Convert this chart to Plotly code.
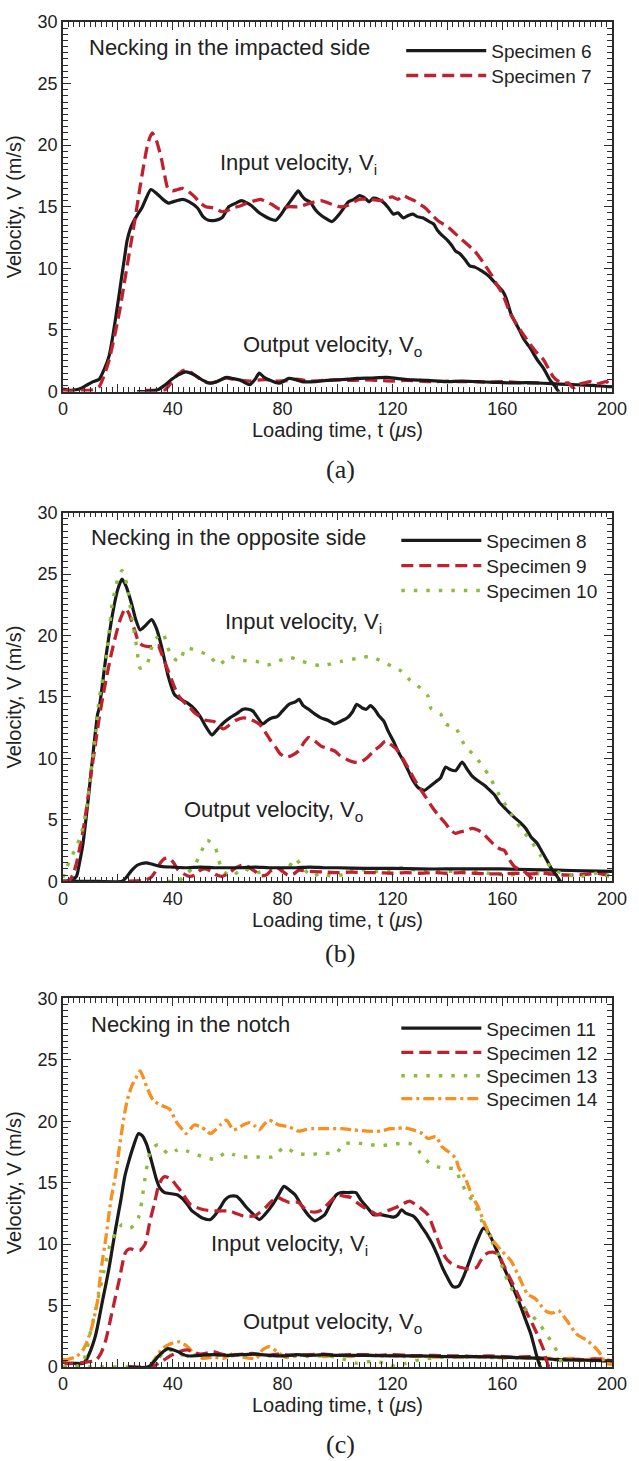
import plotly.graph_objects as go

# ---------------- data ----------------
# Panel (a): necking in the impacted side
t_a6_in = [0,3,6,8.5,11,13.2,15,16.8,18,19.2,
           20.4,21.5,22.5,23.3,24.5,25.7,27,28.7,30.5,32,
           34,36.4,38.5,40,43.6,46,49,51,53,55.5,
           57.9,60.4,63,65,68.6,71,73,75.5,77.5,79.5,
           81,83,84.6,85.7,87,88.2,90,91.8,93.5,95.4,
           98,101,104,106,108,110,111.5,113,115,117,
           118.6,120.4,122,124,125.8,127.5,129,131,133.4,135,
           136.4,138,140,141.5,143,144.5,146.5,148.2,150,152.5,
           155,157.9,160,161.4,163.2,164.3,166,168,170,172.7,
           175,177.5,179,180.5,181.5]
v_a6_in = [0.2,0.1,0.2,0.5,0.8,1.0,1.8,2.9,4.3,6.0,
           7.8,9.5,11.0,12.2,13.2,13.8,14.3,14.9,15.8,16.4,
           16.1,15.6,15.3,15.4,15.6,15.4,14.9,14.2,13.9,13.9,
           14.1,15.0,15.3,15.5,15.1,14.6,14.3,14.0,13.9,14.4,
           14.9,15.5,16.0,16.3,15.9,15.6,15.4,14.8,14.4,14.1,
           13.8,14.5,15.4,15.6,15.9,15.7,15.4,15.7,15.6,15.3,
           14.9,14.4,14.5,14.1,14.3,14.4,14.2,14.1,13.8,13.6,
           13.1,12.7,12.3,11.9,11.4,11.2,10.7,10.2,10.1,9.8,
           9.4,8.7,8.2,7.6,6.3,5.8,5.1,4.2,3.6,2.6,
           1.9,0.9,0.5,0.0,-0.3]
t_a6_out = [27,30,32,34.6,37,39.4,42,44.8,47,49,
            51,53.6,56,59.6,62,64.4,66,68,70,71.5,
            73,75,78.7,80.5,82.3,85,87,91.8,96,100,
            104,107,112,118,122,127.5,133,139.3,145,151,
            157,163,169,175,181,187,193,199,200]
v_a6_out = [0.0,0.0,0.05,0.15,0.5,0.95,1.35,1.6,1.45,1.2,
            0.9,0.67,0.8,1.15,1.05,0.94,0.75,0.55,1.0,1.5,
            1.2,0.95,0.67,0.85,1.07,0.95,0.8,0.8,0.9,0.95,
            1.0,1.07,1.1,1.15,1.05,0.94,0.9,0.8,0.85,0.8,
            0.75,0.7,0.72,0.67,0.6,0.55,0.5,0.4,0.4]
t_a7_in = [0,4,8,10,11.5,13.2,15,16.8,18.2,19.7,
           21,22.1,23.3,24.5,26.3,28,29.5,31,32.5,34,
           35.8,37,38.2,40,41.8,43.5,45.4,48,50,52,
           55,58,60,62,65,67,70,72,74,76,
           79,82,86,90,94,98,101,103.6,106,108,
           112,116,118,120,122,124,126,128,130,132,
           134.6,137,140,143,146,150,153,156,158,160.2,
           163,166,169,172,175,177,178.6,180,182,184,
           186,188,190,192,194,196,198,200]
v_a7_in = [0.1,0.05,0.1,0.1,0.2,0.4,1.3,2.55,3.9,5.5,
           7.0,8.5,10.1,11.7,14.1,16.5,18.5,20.2,21.0,20.4,
           18.95,17.6,16.5,16.3,16.4,16.5,16.3,15.8,15.3,15.0,
           14.9,14.6,14.7,14.9,15.1,15.3,15.5,15.6,15.4,15.2,
           14.8,15.0,15.0,15.3,15.5,15.2,15.0,15.1,15.4,15.6,
           15.6,15.5,15.7,15.8,15.6,15.9,15.7,15.5,15.2,14.9,
           14.3,13.8,13.4,12.8,12.2,11.4,10.5,9.5,8.7,7.9,
           6.3,5.2,4.2,3.3,2.6,1.8,1.2,0.9,0.67,0.7,
           0.3,0.6,0.7,0.8,0.6,0.7,0.8,0.3]
t_a7_out = [30,34,37,39,41,43,44.8,47,50,53,
            56,59,62,65,68,72,75,78,82,85,
            90,95,100,105,110,115,120,125,130,135,
            140,145,150,155,160,165,170,175]
v_a7_out = [0.1,0.1,0.1,0.6,1.2,1.6,1.77,1.5,1.0,0.7,
            0.8,1.1,1.0,0.9,0.85,0.95,0.95,0.85,0.9,1.0,
            0.85,0.9,0.95,0.9,0.95,0.9,0.85,0.9,0.85,0.8,
            0.85,0.8,0.8,0.75,0.8,0.75,0.7,0.7]

# Panel (b): necking in the opposite side
t_b8_in = [0,1.3,3,4.9,6,7.3,9,10.8,12.6,13.2,
           15.6,18,20,21.5,23,25.1,26.5,28.1,30,32.3,
           34,35.8,37,38.2,40.6,43,45.4,48,50,52,
           54.3,56,58.5,60.8,63,65.6,67.5,69.2,71,72.7,
           74.5,76.3,78,79.9,82.3,84.6,86,87.5,89.5,91.8,
           94,96.5,98.9,101,103.6,105.5,107,109,110.5,112,
           113.5,115,116.8,118.5,120.4,122,124,126,127.5,129.5,
           131.7,133.5,135.8,137.5,139.4,141,143,145.4,147,148.9,
           151,153.6,155.5,157.3,159,160.8,162.5,164.4,166.5,168.6,
           170.5,172.7,174.5,176.3,178,180,181.7]
v_b8_in = [0.0,0.0,0.05,0.4,1.5,3.1,6.3,10.1,13.6,14.1,
           18.2,21.7,23.8,24.6,24.0,22.5,21.3,20.45,20.8,21.3,
           20.6,19.2,18.0,16.8,15.2,14.8,14.5,14.0,13.4,12.6,
           11.9,12.3,12.9,13.3,13.6,14.0,14.0,13.85,13.3,12.8,
           13.1,13.3,13.4,13.85,14.4,14.6,14.8,14.3,14.0,13.6,
           13.3,13.1,12.8,13.0,13.3,13.8,14.4,14.1,14.0,14.3,
           14.0,13.5,13.05,12.2,11.4,10.6,9.8,8.9,8.2,7.6,
           7.4,7.7,8.1,8.4,9.3,9.1,9.0,9.7,9.2,8.6,
           8.2,7.8,7.4,7.0,6.4,6.0,5.6,5.2,4.8,4.3,
           3.6,3.1,2.4,1.7,1.0,0.4,-0.2]
t_b8_out = [0,10,21.5,23,25.1,27,28.7,30.5,32.3,35.8,
            40,45,50,55,60,65,70,75,80,85,
            90,95,100,110,120,130,140,150,160,170,
            180,190,200]
v_b8_out = [0.0,0.0,0.0,0.3,0.9,1.3,1.45,1.5,1.4,1.2,
            1.15,1.1,1.15,1.1,1.1,1.1,1.15,1.1,1.1,1.1,
            1.15,1.1,1.1,1.05,1.05,1.0,1.0,1.0,1.0,0.95,
            0.9,0.85,0.8]
t_b9_in = [0,2.5,3.7,4.9,6,7.3,8.8,10.2,11.7,13.2,
           14.5,15.6,17.5,19.2,21,22.7,24,25.1,26.3,27.5,
           29,31,33,34.6,35.8,37,39.4,41.8,44,46,
           48,50,52,55,57,58.5,60.5,63,65.6,68,
           71.5,73.5,75.5,77.5,79,81,83,85.8,87.5,89.4,
           91.8,94,96.5,99,101,103.6,106,108.5,111,113.2,
           115.5,117.4,119,121.5,124,126.3,128,129.9,132,134.6,
           137,139.4,141,143,144.5,146.5,149,151.3,153,154.3,
           156,157.9,159.5,160.8,162.5,164.4,166,168,170,171.5,
           174]
v_b9_in = [0.0,0.1,0.6,1.45,2.6,4.1,6.3,8.7,11.0,13.3,
           15.0,16.3,18.4,20.0,21.4,22.2,21.8,21.1,20.3,19.5,
           19.2,19.1,19.1,19.2,18.6,17.9,16.5,15.2,14.6,14.2,
           13.7,13.4,13.1,13.0,12.6,12.4,12.7,13.1,13.3,13.2,
           12.8,12.2,11.5,10.9,10.4,10.1,10.2,10.6,11.2,11.7,
           11.4,11.0,10.8,10.6,10.2,9.9,9.7,9.7,10.1,10.6,
           11.0,11.4,11.2,10.75,9.9,9.0,8.3,7.6,6.9,6.0,
           5.3,4.7,4.2,3.9,4.0,4.1,4.3,4.15,3.9,3.6,
           3.2,2.8,2.6,2.5,1.8,1.2,1.0,0.8,0.4,0.1,
           -0.3]
t_b9_out = [24,30,32,34,35.5,37,38.5,40,42,44,
            46,48,50,52,54,56,58,60,63,66,
            68,70,72,74,76,78,80,82,84,86,
            90,95,100,105,110,115,120,125,130,135,
            140,145,150,155,160,165,170,175,180,185,
            190,195,200]
v_b9_out = [0.0,0.1,0.3,0.9,1.5,1.85,1.9,1.6,0.9,0.6,
            0.4,0.5,0.9,1.0,0.8,0.5,0.4,0.6,1.1,1.35,
            1.1,0.8,0.45,0.5,0.9,1.1,0.8,0.5,0.6,0.9,
            0.8,0.75,0.7,0.75,0.7,0.7,0.65,0.7,0.65,0.7,
            0.65,0.7,0.65,0.6,0.6,0.65,0.6,0.65,0.55,0.5,
            0.55,0.65,0.4]
t_b10_in = [0,0.7,3.1,4.9,6.7,8.5,10.2,12,13.2,15.6,
            18,20,21.5,23.3,25.1,26.9,28.1,30.5,32.9,34.5,
            36.4,38.2,40,42.4,44.8,48.3,53.1,56.7,60.8,64.4,
            70.4,74.5,78.7,82.9,87,94.2,101.3,108.5,112,116.2,
            119.8,123.3,126.3,129.3,132.9,134,137.6,139.4,143,146.5,
            150,154.9,159,163.2,166.8,170.4,174,177.5,180,184.6,
            189.3,194.2,199]
v_b10_in = [0.3,0.8,2.0,2.8,3.9,5.8,9.0,12.2,14.9,17.9,
            22.7,24.6,25.3,24.1,21.4,19.0,17.35,17.6,19.5,19.9,
            20.2,19.0,18.2,17.9,19.0,18.8,18.4,17.6,18.3,18.0,
            17.9,17.6,17.95,18.2,17.9,17.55,17.9,18.2,18.3,17.9,
            17.5,17.1,16.4,15.9,15.1,14.1,13.6,12.8,12.5,11.0,
            10.2,8.7,7.0,5.5,4.3,3.3,2.1,1.2,0.8,0.5,
            0.4,0.65,0.4]
t_b10_out = [38,42,45,47.7,50,52.5,55.5,56.7,58.5,61.4,
             65.6,69.8,73.9,78.1,81,84.6,87,90.6,94.2,98,
             102,106,110,114.8,119,124,131,139.4,147.5,154.9,
             163,168,174,180]
v_b10_out = [0.0,0.0,0.6,1.2,2.2,3.35,2.75,1.7,0.8,0.4,
             1.05,0.65,0.9,1.2,0.8,1.85,1.2,0.4,0.65,0.4,
             0.55,1.05,0.9,0.8,0.9,1.1,0.8,0.8,0.8,0.65,
             0.5,0.8,0.6,0.55]

# Panel (c): necking in the notch
t_c11_in = [0,1.3,4,7.3,8.5,9.6,10.8,12,13.2,14.4,
            15.6,16.8,18,19.2,21,22.5,23.9,25.7,27.5,29,
            30.5,31.7,32.9,34,35.2,37,39.5,41.8,43.5,45.4,
            47,48.9,51,53.7,55.5,57.3,59,60.8,63.2,65,
            66.8,69,71.5,73.5,76.3,78.5,80.5,82.5,84.6,86.5,
            88.2,90,91.8,93.5,95.4,97.5,99.5,101.3,104,106.7,
            108.5,110.8,113.2,115.6,118,120.4,122,123.3,125,127.5,
            129.2,131,132.8,134.6,136.4,138.2,140,141.8,143,144.2,
            146,147.7,149.5,151.3,153.1,154.5,156,157.8,159.6,161.4,
            163.2,165,166.8,168.6,170.4,171.5,172.7,173.9,175]
v_c11_in = [0.4,0.3,0.3,0.3,0.6,1.1,1.8,2.7,4.0,5.4,
            6.7,8.1,9.7,11.3,13.5,15.5,16.7,18.0,19.0,18.8,
            18.1,17.2,16.2,15.3,14.6,14.2,14.1,14.0,13.7,13.2,
            12.7,12.4,12.1,12.0,12.4,13.0,13.6,13.9,13.9,13.5,
            13.0,12.5,12.0,12.4,13.2,14.0,14.7,14.4,14.0,13.3,
            12.7,12.2,11.9,12.1,12.4,13.3,14.0,14.2,14.2,14.2,
            13.6,13.0,12.4,12.4,12.3,12.2,12.4,12.8,12.5,12.3,
            11.9,11.3,10.7,10.0,9.1,8.1,7.3,6.6,6.5,6.6,
            7.4,8.4,9.5,10.5,11.3,11.1,10.5,9.6,8.65,7.7,
            6.8,5.9,4.9,3.8,2.7,1.8,0.8,0.0,-0.4]
t_c11_out = [24,31,33,34.6,36.5,38.2,40,41.8,43.5,45.4,
             50,55,60,65,70,75,80,85,90,95,
             100,110,120,130,140,150,160,170,180,190,
             200]
v_c11_out = [0.0,0.0,0.4,0.85,1.25,1.5,1.4,1.25,1.05,0.9,
             0.95,1.0,0.95,1.0,1.05,0.95,0.9,1.0,0.95,1.0,
             0.95,0.95,0.9,0.9,0.85,0.85,0.8,0.75,0.6,0.55,
             0.5]
t_c12_in = [0,1.3,4,8.5,12,13.8,15.6,18,20.4,22.7,
            24,25.1,26.5,28.1,29.9,31.7,33.5,34.6,36,37,
            39.4,41.2,43,44.8,46.5,48.5,51.3,56,60.8,63,
            65.6,69.8,71.8,73.9,76,78.1,80.2,82.3,85.8,87.5,
            89.4,91.5,93.5,95.4,97.5,100.1,102.5,104.9,107,109.6,
            112,114.4,116,118,121.5,124,126.3,128,129.9,131.5,
            132.9,134.3,135.8,137.5,139.4,141,143,145,147.7,149,
            150.7,152,153.5,154.9,156.5,158.5,160.3,162,163.8,165.6,
            167.4,169.2,171,172.7,174,175.1,176,177]
v_c12_in = [0.5,0.3,0.3,0.4,0.55,1.1,2.2,4.6,7.0,9.3,
            9.6,9.6,9.5,9.5,10.0,11.9,13.5,14.6,15.3,15.5,
            15.3,14.8,14.3,13.7,13.2,13.0,12.8,12.7,12.7,12.5,
            12.3,12.3,12.6,13.0,13.5,13.8,13.6,13.4,13.4,13.0,
            12.7,12.6,12.7,13.0,13.5,14.0,13.9,13.8,13.4,13.0,
            12.7,12.4,12.5,12.7,13.0,13.3,13.5,13.3,13.0,12.7,
            12.4,11.7,10.8,9.8,8.9,8.5,8.25,8.1,8.0,8.05,
            8.1,8.6,9.1,9.3,9.35,9.2,8.4,7.6,6.8,5.95,
            5.1,4.3,3.5,2.7,2.0,1.4,0.6,0.0]
t_c12_out = [24,31,33,35,37,39,41,43,45.4,47.5,
             50,52,54.8,57,60,63,66,69,72,75,
             78,81,85,90,95,100,105,110,115,120,
             125,130,135,140,145,150,155,160,165,170,
             175,180,185,190,195,200]
v_c12_out = [0.0,0.0,0.1,0.3,0.6,0.9,1.1,1.3,1.4,1.2,
             1.05,1.1,1.25,1.1,0.95,1.0,1.05,1.1,1.0,0.95,
             1.05,1.0,0.95,1.0,1.05,0.95,1.0,1.0,0.95,1.0,
             0.95,0.9,0.95,0.9,0.9,0.85,0.9,0.85,0.8,0.85,
             0.7,0.6,0.65,0.6,0.65,0.5]
t_c13_in = [0,4,7,8.5,9.6,11.4,13.2,15,16.8,18.2,
            19.8,21.5,23,24.5,26,27.5,28.7,29.9,31.7,33,
            34.6,36.5,38.8,41,43,45,47.1,51.3,55.5,57.5,
            59.6,62,64.4,68,71.5,76.3,78.5,80.5,82.5,84.6,
            89.4,95.4,99.5,102.5,105.5,108.5,112,115.6,119,122.7,
            126.3,129.9,133.4,136.5,139.4,143,144.8,147.1,150.1,152.5,
            154.9,156.7,158.5,160.8,163.2,165.6,168,170.4,173.9,176.3,
            178.7,180.5,182.3,183.5]
v_c13_in = [0.0,0.0,0.3,1.2,2.45,4.2,6.0,7.9,9.7,10.5,
            11.1,11.6,11.5,11.3,11.6,12.15,13.5,15.4,17.5,17.9,
            18.1,17.7,17.3,17.6,17.8,17.6,17.4,17.1,16.9,17.2,
            17.5,17.3,17.1,17.1,17.1,17.1,17.5,17.9,17.7,17.4,
            17.3,17.4,17.4,18.2,18.2,18.2,18.1,18.0,18.1,18.2,
            18.2,17.5,16.6,16.3,16.2,16.1,15.1,14.2,13.2,11.9,
            10.8,10.0,9.2,7.6,6.5,5.4,4.8,4.3,3.4,2.6,
            1.8,1.0,0.0,-0.4]
t_c13_out = [0,12,24,31,34,37,39.4,43,48,55,
             60,65,70,75,80,85,90,95,100,104,
             107,112,118,121,125,130,136,140,150,160,
             170,180,190,200]
v_c13_out = [0.0,0.0,0.0,0.0,0.5,1.25,1.35,1.0,0.95,1.0,
             0.95,0.9,1.0,0.9,0.95,0.9,0.85,0.9,0.8,0.5,
             0.3,0.45,0.3,0.05,0.3,0.6,0.75,0.8,0.8,0.75,
             0.7,0.6,0.5,0.45]
t_c14_in = [0,1.3,4.9,7.3,9,10.8,12.6,13.8,15.6,17.4,
            19.2,20.5,22.1,23.5,25.1,26.5,28.1,29.2,30.5,32.9,
            35.8,38.8,41.2,43.6,44.8,46.5,47.8,50.1,52,53.7,
            55.5,57.3,59.6,62,63.5,65.6,68,70,71.5,73.5,
            75.1,77,78.7,82.3,85.8,88,90.6,95.4,101.3,106,
            110.8,115.6,119.2,122,124,127.5,131,132.9,135.8,138.2,
            140.6,143,144.2,146.5,148.9,151.3,153.7,156.7,159.6,163.2,
            166.2,169.2,172.1,174.5,176.3,178.5,180.5,183.5,187,190.6,
            193.6,196,197.7,200]
v_c14_in = [0.6,0.6,0.85,1.4,2.2,3.5,5.4,7.8,10.5,13.5,
            15.7,17.8,20.2,21.8,22.9,23.5,24.1,23.6,22.8,21.7,
            21.3,21.0,20.0,19.3,19.0,19.4,19.7,19.55,19.3,19.0,
            19.3,19.7,20.1,19.3,19.4,19.7,19.9,19.6,19.3,19.8,
            20.1,19.9,19.7,19.55,19.2,19.3,19.4,19.4,19.4,19.3,
            19.2,19.2,19.4,19.4,19.5,19.3,19.0,18.6,18.75,17.9,
            17.5,17.0,16.2,15.4,14.0,13.0,11.6,10.3,9.5,8.65,
            7.3,5.95,5.55,4.9,4.5,4.4,4.6,3.8,2.7,2.2,
            1.65,1.0,0.3,0.2]
t_c14_out = [24,31,33,35.8,37.5,39.4,42.4,45.4,47.7,51,
             54.8,58.5,62,65.6,70.4,72.7,75.1,78,81,85,
             90,95,100,105,110,115,120,125,130,135,
             140,145,150,155,160,165,170,175,180,185,
             190,195,200]
v_c14_out = [0.0,0.0,0.5,1.4,1.7,1.9,2.05,1.65,1.1,0.7,
             0.8,0.7,1.1,0.8,0.7,1.4,1.65,1.25,0.8,0.9,
             1.0,0.85,0.95,0.85,1.0,0.9,0.95,0.85,0.9,0.8,
             0.85,0.8,0.85,0.8,0.75,0.8,0.7,0.75,0.65,0.7,
             0.6,0.7,0.5]

x_major_step = 20      # major ticks every 20 us, labels every 40 us
y_major_step = 5

# ---------------- styles ----------------
BLACK = "#1a1a1a"
RED = "#c0212e"
GREEN = "#8cbc3c"
ORANGE = "#f7901e"
AX = "#2b2b2b"
FONT = "Liberation Sans, Arial, Helvetica, sans-serif"

styles = {
    "solid": dict(color=BLACK, width=3.2, dash="solid"),
    "dash": dict(color=RED, width=3.3, dash="12px,6px"),
    "dot": dict(color=GREEN, width=3.4, dash="3.5px,9px"),
    "dashdot": dict(color=ORANGE, width=3.3, dash="11px,4px,3px,4px"),
}

# legend rows: line start x and row centre y, in page pixels
panels = [
    ("x", "y", [
        ("Specimen 6", "solid", t_a6_in, v_a6_in, t_a6_out, v_a6_out, 408, 42),
        ("Specimen 7", "dash", t_a7_in, v_a7_in, t_a7_out, v_a7_out, 408, 67),
    ]),
    ("x2", "y2", [
        ("Specimen 8", "solid", t_b8_in, v_b8_in, t_b8_out, v_b8_out, 403, 535),
        ("Specimen 9", "dash", t_b9_in, v_b9_in, t_b9_out, v_b9_out, 403, 560.5),
        ("Specimen 10", "dot", t_b10_in, v_b10_in, t_b10_out, v_b10_out, 403, 585.5),
    ]),
    ("x3", "y3", [
        ("Specimen 11", "solid", t_c11_in, v_c11_in, t_c11_out, v_c11_out, 403, 1026),
        ("Specimen 12", "dash", t_c12_in, v_c12_in, t_c12_out, v_c12_out, 403, 1050.5),
        ("Specimen 13", "dot", t_c13_in, v_c13_in, t_c13_out, v_c13_out, 403, 1074),
        ("Specimen 14", "dashdot", t_c14_in, v_c14_in, t_c14_out, v_c14_out, 403, 1097),
    ]),
]

W, H = 639, 1461
ML, MR, MT, MB = 63, 16, 13, 94
PH = H - MT - MB  # 1354
PW = W - ML - MR  # 560


def py(p):
    """page pixel y -> paper y"""
    return (H - MB - p) / PH


def px(p):
    """page pixel x -> paper x"""
    return (p - ML) / PW


fig = go.Figure()
legend_layouts = {}
k = 0
for xa, ya, series in panels:
    for name, st, ti, vi, to, vo, lx, ly in reversed(series):
        fig.add_trace(go.Scatter(x=to, y=vo, mode="lines", xaxis=xa, yaxis=ya,
                                 line=dict(**styles[st], shape="spline", smoothing=0.6),
                                 showlegend=False, hoverinfo="skip"))
    for name, st, ti, vi, to, vo, lx, ly in series:
        k += 1
        lg = "legend" if k == 1 else "legend%d" % k
        fig.add_trace(go.Scatter(x=ti, y=vi, mode="lines", name=name, xaxis=xa, yaxis=ya,
                                 legend=lg,
                                 line=dict(**styles[st], shape="spline", smoothing=0.6)))
        legend_layouts[lg] = dict(
            bgcolor="rgba(0,0,0,0)", borderwidth=0,
            font=dict(family=FONT, size=19, color="#222"),
            itemwidth=80, xanchor="left", yanchor="middle",
            x=px(lx), y=py(ly),
        )

domains = [(py(385), py(13)), (py(878), py(507)), (py(1367), py(996))]

axis_common = dict(
    showline=True, linewidth=1.5, linecolor=AX, mirror="allticks",
    ticks="inside", ticklen=8, tickwidth=1.3, tickcolor=AX,
    showgrid=False, zeroline=False,
    tickfont=dict(family=FONT, size=18, color="#222"),
)

layout = dict(
    width=W, height=H,
    margin=dict(l=ML, r=MR, t=MT, b=MB),
    paper_bgcolor="white", plot_bgcolor="white",
    font=dict(family=FONT, color="#222"),
)
for i, (d0, d1) in enumerate(domains):
    sx = "" if i == 0 else str(i + 1)
    layout["xaxis" + sx] = dict(
        axis_common, domain=[0, 1], anchor="y" + sx, range=[0, 200],
        tick0=0, dtick=x_major_step, ticklabelstep=2,
        minor=dict(ticks="inside", ticklen=5, tickwidth=1.1, tickcolor=AX, dtick=2),
        title=dict(text="Loading time, t (<i>μ</i>s)", font=dict(family=FONT, size=20, color="#222"),
                   standoff=5),
    )
    layout["yaxis" + sx] = dict(
        axis_common, domain=[d0, d1], anchor="x" + sx, range=[0, 30],
        tick0=0, dtick=y_major_step,
        minor=dict(ticks="inside", ticklen=5, tickwidth=1.1, tickcolor=AX, dtick=0.5),
        title=dict(text="Velocity, V (m/s)", font=dict(family=FONT, size=20, color="#222"),
                   standoff=11),
    )
layout.update(legend_layouts)
fig.update_layout(**layout)

ann_font = dict(family=FONT, size=22, color="#222")
texts = [
    ("x", "y", 8.9, 27.9, "Necking in the impacted side"),
    ("x", "y", 56.3, 18.5, "Input velocity, V<sub>i</sub>"),
    ("x", "y", 64.7, 3.7, "Output velocity, V<sub>o</sub>"),
    ("x2", "y2", 9.4, 28.0, "Necking in the opposite side"),
    ("x2", "y2", 58.2, 21.0, "Input velocity, V<sub>i</sub>"),
    ("x2", "y2", 43.2, 5.7, "Output velocity, V<sub>o</sub>"),
    ("x3", "y3", 9.4, 27.9, "Necking in the notch"),
    ("x3", "y3", 53.3, 9.9, "Input velocity, V<sub>i</sub>"),
    ("x3", "y3", 64.7, 3.6, "Output velocity, V<sub>o</sub>"),
]
for xr, yr, xv, yv, txt in texts:
    fig.add_annotation(x=xv, y=yv, xref=xr, yref=yr, text=txt, showarrow=False,
                       xanchor="left", yanchor="middle", font=ann_font)

for lab, ypix in [("(a)", 463), ("(b)", 951), ("(c)", 1445)]:
    fig.add_annotation(x=px(346), y=py(ypix), xref="paper", yref="paper", text=lab,
                       showarrow=False, xanchor="center", yanchor="middle",
                       font=dict(family="Liberation Serif, Times New Roman, serif", size=26, color="#222"))

fig.write_html("out.html", config={"displayModeBar": False},
               post_script="document.body.style.margin='0';")
